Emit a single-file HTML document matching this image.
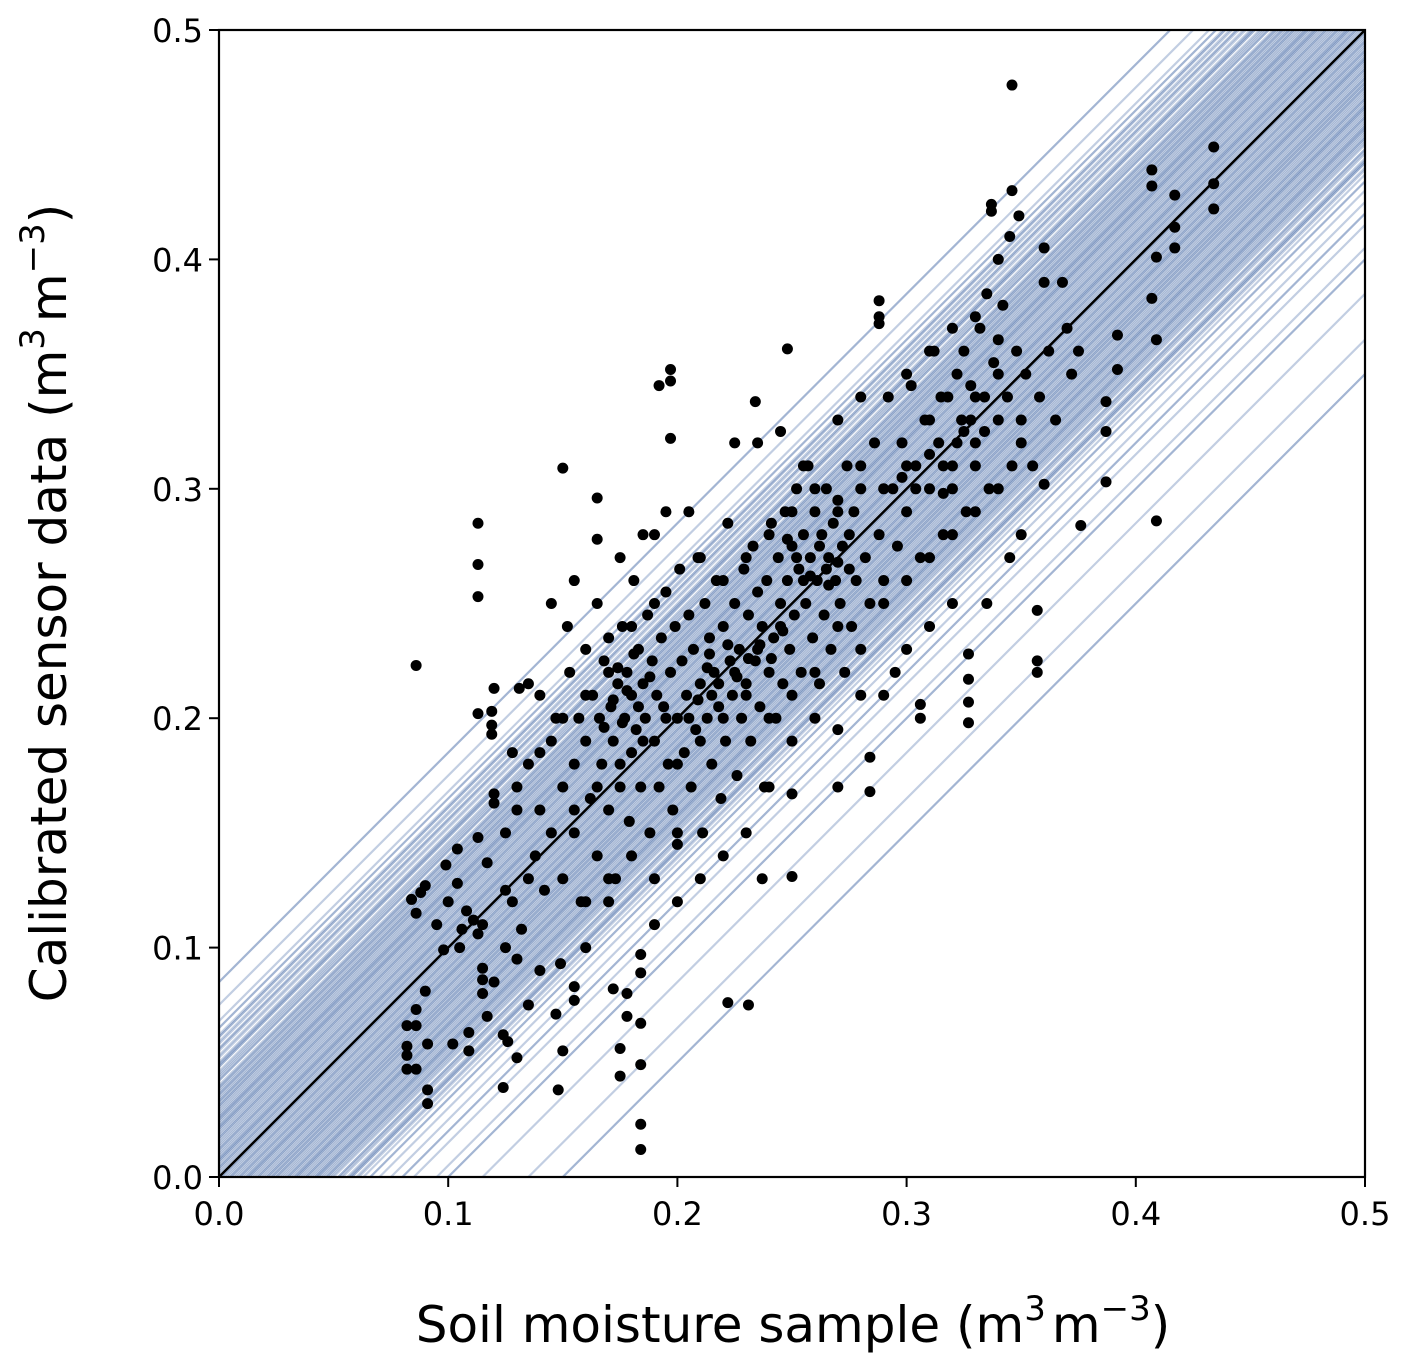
<!DOCTYPE html>
<html><head><meta charset="utf-8"><style>
html,body{margin:0;padding:0;background:#fff;overflow:hidden;}
svg{display:block;}
svg text{font-family:"DejaVu Sans","Liberation Sans",sans-serif;fill:#000;}
</style></head><body>
<svg id="chart" width="1409" height="1368" viewBox="0 0 1409 1368" xmlns="http://www.w3.org/2000/svg">
<defs><clipPath id="plotclip"><rect x="219" y="30" width="1146" height="1147"/></clipPath></defs>
<rect x="219" y="30" width="1146" height="1147" fill="#fff"/>
<g id="lines" clip-path="url(#plotclip)"></g>
<line id="oneone" stroke="#000" stroke-width="2.5" clip-path="url(#plotclip)"/>
<g id="points"></g>
<rect x="219" y="30" width="1146" height="1147" fill="none" stroke="#000" stroke-width="2.2"/>
<g id="xticks"></g>
<g id="yticks"></g>
<text x="793" y="1342" font-size="50" text-anchor="middle">Soil moisture sample (m<tspan font-size="34" dy="-22">3</tspan><tspan dy="22" dx="6">m</tspan><tspan font-size="34" dy="-22">−3</tspan><tspan dy="22">)</tspan></text>
<text transform="translate(66,603) rotate(-90)" font-size="50" text-anchor="middle">Calibrated sensor data (m<tspan font-size="34" dy="-22">3</tspan><tspan dy="22" dx="6">m</tspan><tspan font-size="34" dy="-22">−3</tspan><tspan dy="22">)</tspan></text>
</svg>
<script>
const xTicks = [0.0, 0.1, 0.2, 0.3, 0.4, 0.5];
const yTicks = [0.0, 0.1, 0.2, 0.3, 0.4, 0.5];
const tickLabels = ["0.0", "0.1", "0.2", "0.3", "0.4", "0.5"];
const intercepts = [-0.15,-0.135,-0.115,-0.1,-0.095,-0.085,-0.08,-0.075,-0.07,-0.066,-0.063,-0.06,-0.058,-0.056,-0.054,-0.052,-0.05,-0.049,-0.047,-0.046,-0.044,-0.043,-0.041,-0.04,-0.038,-0.037,-0.035,-0.034,-0.032,-0.031,-0.03,-0.028,-0.027,-0.025,-0.024,-0.022,-0.021,-0.02,-0.018,-0.017,-0.015,-0.014,-0.013,-0.011,-0.01,-0.009,-0.007,-0.006,-0.005,-0.003,-0.002,-0.001,0.001,0.002,0.004,0.005,0.006,0.008,0.009,0.011,0.012,0.014,0.015,0.017,0.018,0.02,0.021,0.023,0.024,0.026,0.027,0.029,0.031,0.032,0.034,0.036,0.038,0.04,0.042,0.044,0.046,0.048,0.05,0.053,0.056,0.059,0.062,0.065,0.068,0.075,0.085,
-0.045,-0.039,-0.033,-0.026,-0.019,-0.012,-0.004,0.003,0.007,0.013,0.019,0.025,0.03,0.035,0.039,0.043,-0.029,-0.023,-0.016,-0.008,0.0,0.01,0.016,0.022,0.028,-0.036,-0.042,-0.048,-0.053,0.033,0.037,0.045,0.049,0.052,0.055,-0.057,-0.061,0.058,0.061];
const pointsX = [];
const pointsY = [];
const raw = "0.086,0.223 0.113,0.285 0.113,0.267 0.113,0.253 0.150,0.309 0.165,0.296 0.192,0.345 0.197,0.352 0.197,0.347 0.197,0.322 0.248,0.361 0.234,0.338 0.346,0.476 0.346,0.430 0.337,0.424 0.337,0.421 0.349,0.419 0.288,0.382 0.288,0.375 0.288,0.372 0.407,0.439 0.407,0.432 0.434,0.449 0.434,0.433 0.434,0.422 0.417,0.428 0.417,0.414 0.417,0.405 0.409,0.401 0.407,0.383 0.409,0.365 0.409,0.286 0.387,0.338 0.387,0.325 0.387,0.303 0.376,0.284 0.357,0.247 0.357,0.225 0.357,0.220 0.327,0.228 0.327,0.217 0.327,0.207 0.327,0.198 0.306,0.206 0.306,0.200 0.284,0.183 0.284,0.168 0.270,0.170 0.250,0.167 0.250,0.131 0.237,0.130 0.231,0.075 0.222,0.076 0.184,0.023 0.184,0.012 0.184,0.067 0.184,0.097 0.184,0.089 0.184,0.049 0.175,0.044 0.175,0.056 0.172,0.082 0.178,0.070 0.178,0.080 0.150,0.055 0.148,0.038 0.155,0.083 0.155,0.077 0.147,0.071 0.149,0.093 0.124,0.039 0.130,0.052 0.126,0.059 0.124,0.062 0.091,0.032 0.091,0.038 0.091,0.058 0.082,0.047 0.082,0.053 0.082,0.057 0.082,0.066 0.086,0.047 0.086,0.066 0.086,0.073 0.084,0.121 0.086,0.115 0.088,0.124 0.090,0.081 0.090,0.127 0.098,0.099 0.102,0.058 0.109,0.055 0.109,0.063 0.115,0.091 0.115,0.086 0.115,0.080 0.117,0.070 0.113,0.202 0.119,0.203 0.119,0.197 0.119,0.193 0.120,0.213 0.131,0.213 0.135,0.215 0.140,0.210 0.128,0.185 0.120,0.167 0.120,0.163 0.099,0.136 0.104,0.143 0.113,0.148 0.117,0.137 0.104,0.128 0.108,0.116 0.111,0.112 0.106,0.108 0.113,0.106 0.125,0.15 0.13,0.17 0.128,0.12 0.132,0.108 0.135,0.18 0.138,0.14 0.14,0.16 0.142,0.125 0.145,0.19 0.147,0.2 0.15,0.17 0.15,0.13 0.152,0.24 0.153,0.22 0.155,0.18 0.155,0.15 0.157,0.2 0.158,0.12 0.16,0.23 0.16,0.19 0.162,0.165 0.163,0.21 0.165,0.14 0.165,0.25 0.166,0.2 0.167,0.18 0.168,0.225 0.17,0.16 0.17,0.235 0.171,0.205 0.172,0.19 0.173,0.13 0.174,0.215 0.175,0.17 0.176,0.24 0.177,0.2 0.178,0.22 0.179,0.155 0.18,0.21 0.18,0.185 0.181,0.26 0.182,0.195 0.183,0.23 0.184,0.17 0.185,0.215 0.186,0.2 0.187,0.245 0.188,0.15 0.189,0.225 0.19,0.19 0.19,0.28 0.191,0.21 0.192,0.17 0.193,0.235 0.194,0.205 0.195,0.255 0.196,0.18 0.197,0.22 0.198,0.16 0.199,0.24 0.2,0.2 0.2,0.145 0.201,0.265 0.202,0.225 0.203,0.185 0.204,0.21 0.205,0.245 0.206,0.17 0.207,0.23 0.208,0.195 0.209,0.27 0.21,0.215 0.211,0.15 0.212,0.25 0.213,0.2 0.214,0.235 0.215,0.18 0.216,0.22 0.217,0.26 0.218,0.205 0.219,0.165 0.22,0.24 0.221,0.19 0.222,0.285 0.223,0.225 0.224,0.21 0.225,0.25 0.226,0.175 0.227,0.23 0.228,0.2 0.229,0.265 0.23,0.215 0.231,0.245 0.232,0.19 0.233,0.275 0.234,0.225 0.235,0.255 0.236,0.205 0.237,0.24 0.238,0.17 0.239,0.26 0.24,0.22 0.241,0.285 0.242,0.235 0.243,0.2 0.244,0.27 0.245,0.25 0.246,0.215 0.247,0.29 0.248,0.26 0.249,0.23 0.25,0.275 0.251,0.245 0.252,0.3 0.253,0.265 0.254,0.22 0.255,0.28 0.256,0.25 0.257,0.31 0.258,0.27 0.259,0.235 0.26,0.29 0.261,0.26 0.262,0.215 0.263,0.28 0.264,0.245 0.265,0.3 0.266,0.27 0.267,0.23 0.268,0.285 0.269,0.26 0.27,0.295 0.271,0.25 0.272,0.275 0.273,0.22 0.274,0.31 0.275,0.265 0.276,0.24 0.277,0.29 0.278,0.26 0.28,0.3 0.282,0.27 0.284,0.25 0.286,0.32 0.288,0.28 0.29,0.26 0.292,0.34 0.294,0.3 0.296,0.275 0.298,0.32 0.3,0.29 0.302,0.345 0.304,0.31 0.306,0.27 0.308,0.33 0.31,0.3 0.312,0.36 0.314,0.32 0.316,0.28 0.318,0.34 0.32,0.31 0.322,0.35 0.324,0.33 0.326,0.29 0.328,0.345 0.33,0.32 0.332,0.37 0.334,0.34 0.336,0.3 0.338,0.355 0.34,0.33 0.342,0.38 0.344,0.34 0.346,0.31 0.348,0.36 0.35,0.33 0.352,0.35 0.355,0.31 0.358,0.34 0.36,0.39 0.362,0.36 0.365,0.33 0.368,0.39 0.37,0.37 0.372,0.35 0.375,0.36 0.392,0.367 0.392,0.352 0.36,0.302 0.35,0.28 0.345,0.27 0.335,0.25 0.32,0.25 0.31,0.24 0.3,0.23 0.295,0.22 0.29,0.21 0.28,0.21 0.27,0.195 0.26,0.2 0.25,0.19 0.24,0.17 0.23,0.15 0.22,0.14 0.21,0.13 0.2,0.12 0.19,0.11 0.16,0.1 0.17,0.12 0.14,0.09 0.13,0.095 0.12,0.085 0.125,0.1 0.135,0.075 0.16,0.12 0.17,0.13 0.18,0.14 0.19,0.13 0.2,0.15 0.185,0.28 0.195,0.29 0.205,0.29 0.175,0.27 0.165,0.278 0.155,0.26 0.145,0.25 0.225,0.32 0.235,0.32 0.245,0.325 0.255,0.31 0.27,0.33 0.28,0.34 0.28,0.31 0.3,0.35 0.31,0.36 0.32,0.37 0.33,0.375 0.335,0.385 0.34,0.4 0.345,0.41 0.36,0.405 0.34,0.365 0.325,0.36 0.315,0.34 0.3,0.31 0.29,0.3 0.275,0.28 0.265,0.265 0.255,0.26 0.245,0.24 0.235,0.23 0.225,0.22 0.215,0.21 0.205,0.2 0.195,0.2 0.185,0.19 0.175,0.18 0.165,0.17 0.155,0.16 0.145,0.15 0.135,0.13 0.125,0.125 0.115,0.11 0.105,0.1 0.1,0.12 0.095,0.11 0.2,0.18 0.21,0.19 0.22,0.2 0.23,0.21 0.24,0.2 0.25,0.21 0.26,0.22 0.27,0.24 0.28,0.23 0.29,0.25 0.3,0.26 0.31,0.27 0.32,0.28 0.33,0.29 0.34,0.3 0.35,0.32 0.18,0.24 0.19,0.25 0.17,0.22 0.16,0.21 0.15,0.2 0.14,0.185 0.13,0.16 0.21,0.27 0.22,0.26 0.23,0.27 0.24,0.28 0.25,0.29 0.26,0.3 0.27,0.29 0.31,0.33 0.32,0.3 0.33,0.31 0.34,0.35 0.33,0.34 0.325,0.325 0.172,0.208 0.178,0.212 0.183,0.205 0.188,0.218 0.176,0.198 0.168,0.196 0.174,0.222 0.181,0.228 0.214,0.228 0.218,0.215 0.222,0.232 0.226,0.218 0.231,0.226 0.236,0.232 0.241,0.226 0.246,0.238 0.209,0.208 0.213,0.222 0.252,0.27 0.258,0.262 0.262,0.275 0.266,0.258 0.248,0.278 0.27,0.268 0.304,0.3 0.31,0.315 0.316,0.31 0.322,0.32 0.328,0.33 0.334,0.325 0.316,0.298 0.298,0.305";
raw.split(" ").forEach(function(p){const a=p.split(",");pointsX.push(+a[0]);pointsY.push(+a[1]);});

const NS="http://www.w3.org/2000/svg";
const X0=219,X1=1365,Y0=1177,Y1=30;
function sx(v){return X0+(v-0)/(0.5-0)*(X1-X0);}
function sy(v){return Y0-(v-0)/(0.5-0)*(Y0-Y1);}
function mk(tag,attrs,parent){const e=document.createElementNS(NS,tag);for(const k in attrs)e.setAttribute(k,attrs[k]);parent.appendChild(e);return e;}

const lg=document.getElementById("lines");
intercepts.forEach(function(b,i){
  const op = (i%3===0)?"0.45":"0.3";
  const l=mk("line",{x1:sx(-0.2),y1:sy(-0.2+b),x2:sx(0.7),y2:sy(0.7+b),stroke:"rgb(52,92,158)","stroke-opacity":op,"stroke-width":"2.2"},lg);
  
  
});
const oo=document.getElementById("oneone");
oo.setAttribute("x1",sx(0));oo.setAttribute("y1",sy(0));oo.setAttribute("x2",sx(0.5));oo.setAttribute("y2",sy(0.5));

const pg=document.getElementById("points");
for(let i=0;i<pointsX.length;i++){
  const c=mk("circle",{cx:sx(pointsX[i]),cy:sy(pointsY[i]),r:"5.5",fill:"#000"},pg);
  
  
}

const xg=document.getElementById("xticks");
xTicks.forEach(function(v,i){
  const t=mk("line",{x1:sx(v),y1:Y0,x2:sx(v),y2:Y0+10,stroke:"#000","stroke-width":"2"},xg);
  
  
  const tx=mk("text",{x:sx(v),y:Y0+48,"font-size":"32","text-anchor":"middle"},xg);
  tx.textContent=tickLabels[i];
  
  
});
const yg=document.getElementById("yticks");
yTicks.forEach(function(v,i){
  const t=mk("line",{x1:X0-10,y1:sy(v),x2:X0,y2:sy(v),stroke:"#000","stroke-width":"2"},yg);
  
  
  const tx=mk("text",{x:X0-16,y:sy(v)+12,"font-size":"32","text-anchor":"end"},yg);
  tx.textContent=tickLabels[i];
  
  
});
</script>
</body></html>
